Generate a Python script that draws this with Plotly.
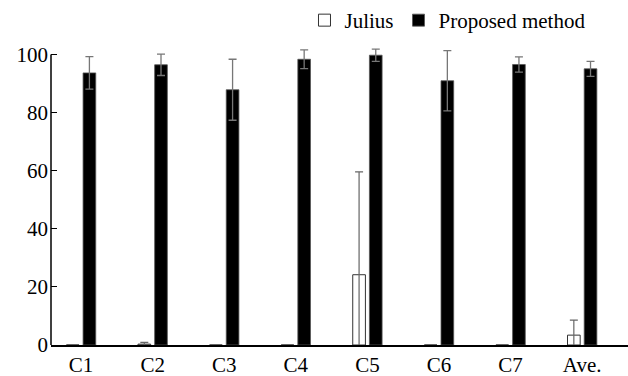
import plotly.graph_objects as go

categories = ["C1", "C2", "C3", "C4", "C5", "C6", "C7", "Ave."]
julius_mean = [0, 0.3, 0, 0, 24.2, 0, 0, 3.4]
julius_err = [0, 0.6, 0, 0, 35.4, 0, 0, 5.2]
proposed_mean = [93.7, 96.5, 87.9, 98.4, 99.8, 91.0, 96.6, 95.1]
proposed_err = [5.6, 3.7, 10.5, 3.2, 2.1, 10.4, 2.6, 2.6]
y_ticks = [0, 20, 40, 60, 80, 100]

FONT = "Liberation Serif"

fig = go.Figure()
fig.add_trace(go.Bar(
    name="Julius", x=categories, y=julius_mean,
    marker=dict(color="white", line=dict(color="#333333", width=1)),
    error_y=dict(type="data", array=julius_err, color="#666666", thickness=1.2, width=4),
))
fig.add_trace(go.Bar(
    name="Proposed method", x=categories, y=proposed_mean,
    marker=dict(color="black", line=dict(color="#555555", width=0.8)),
    error_y=dict(type="data", array=proposed_err, color="#777777", thickness=1.3, width=4),
))

fig.update_layout(
    width=628, height=376,
    margin=dict(l=51, r=0, t=43, b=31, autoexpand=False),
    paper_bgcolor="white", plot_bgcolor="white",
    font=dict(family=FONT, size=21, color="black"),
    barmode="group", bargap=0.534, bargroupgap=0.24,
    showlegend=True,
    legend=dict(orientation="h", x=0.935, xanchor="right", y=1.0, yref="container",
                yanchor="top", font=dict(family="Times New Roman", size=21),
                bgcolor="rgba(0,0,0,0)", itemwidth=30, tracegroupgap=0),
    xaxis=dict(range=[-0.42, 7.64], showline=True, linecolor="black", linewidth=1.5,
               ticks="", showgrid=False, zeroline=False, automargin=False,
               ticklabelstandoff=0, tickfont=dict(family=FONT, size=21)),
    yaxis=dict(range=[0, 104], showline=False, showgrid=False, zeroline=False,
               tickvals=y_ticks, ticks="inside", ticklen=6, tickcolor="black",
               tickwidth=1.3, automargin=False, ticklabelstandoff=2,
               tickfont=dict(family=FONT, size=21)),
)
fig.add_shape(type="line", xref="paper", yref="y", x0=0, x1=0, y0=0, y1=100,
              line=dict(color="black", width=1.5))

fig.write_html("out.html", config={"displayModeBar": False},
               post_script="document.body.style.margin='0';")
